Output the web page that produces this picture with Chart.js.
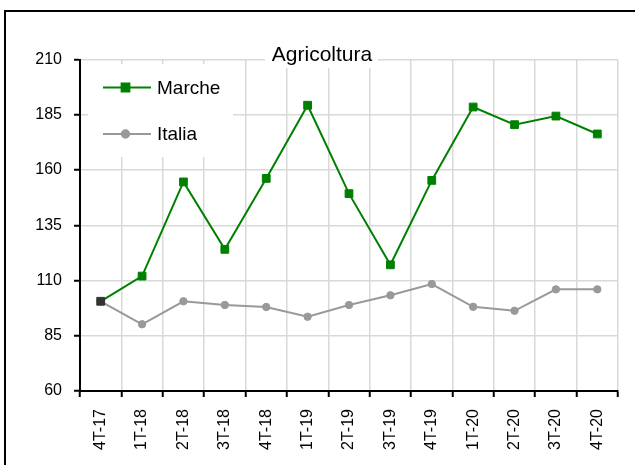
<!DOCTYPE html>
<html>
<head>
<meta charset="utf-8">
<script src="https://cdn.jsdelivr.net/npm/chart.js@4.4.0/dist/chart.umd.min.js"></script>
<style>
  html, body { margin: 0; padding: 0; background: #fff; overflow: hidden; }
  #frame { position: absolute; left: 4px; top: 10px; width: 700px; height: 500px; border: 2px solid #000; }
  #chart { position: absolute; left: 0; top: 0; }
</style>
</head>
<body>
<div id="frame"></div>
<canvas id="chart" width="635" height="465"></canvas>
<script>
// Data
const labels = ['4T-17', '1T-18', '2T-18', '3T-18', '4T-18', '1T-19', '2T-19', '3T-19', '4T-19', '1T-20', '2T-20', '3T-20', '4T-20'];
const marche = [100.6, 112.0, 154.6, 124.1, 156.2, 189.3, 149.3, 117.1, 155.3, 188.5, 180.5, 184.4, 176.3];
const italia = [100.6, 90.2, 100.6, 98.9, 98.0, 93.6, 98.9, 103.3, 108.4, 98.1, 96.3, 106.0, 106.0];
const chartTitle = 'Agricoltura';
const seriesNames = ['Marche', 'Italia'];

const FONT = '"Liberation Sans", Arial, sans-serif';
Chart.defaults.font.family = FONT;
Chart.defaults.color = '#000';

const green = '#008000';
const grey = '#999999';

// first Marche point is dark in the original
const marcheFill = marche.map((v, i) => i === 0 ? '#333333' : green);

// title with white box over the plot top
const titleBox = {
  id: 'titleBox',
  afterDraw(chart) {
    const ctx = chart.ctx;
    ctx.save();
    ctx.fillStyle = '#fff';
    ctx.fillRect(265, 38, 113, 30);
    ctx.fillStyle = '#000';
    ctx.font = '21px ' + FONT;
    ctx.textAlign = 'center';
    ctx.textBaseline = 'alphabetic';
    ctx.fillText(chartTitle, 322, 61);
    ctx.restore();
  }
};

// legend drawn inside the plot area
const innerLegend = {
  id: 'innerLegend',
  afterDraw(chart) {
    const ctx = chart.ctx;
    ctx.save();
    ctx.fillStyle = '#fff';
    ctx.fillRect(88, 64, 145, 93);
    const rows = [87.5, 134];
    chart.data.datasets.forEach((ds, i) => {
      const y = rows[i];
      ctx.strokeStyle = ds.borderColor;
      ctx.lineWidth = 2;
      ctx.beginPath();
      ctx.moveTo(103, y);
      ctx.lineTo(151, y);
      ctx.stroke();
      ctx.fillStyle = ds.borderColor;
      Chart.helpers.drawPoint(ctx, {
        pointStyle: ds.pointStyle,
        radius: ds.pointRadius,
        borderWidth: 1
      }, 125.5, y);
      ctx.fill();
      ctx.fillStyle = '#000';
      ctx.font = '19px ' + FONT;
      ctx.textAlign = 'left';
      ctx.textBaseline = 'middle';
      ctx.fillText(ds.label, 157, y + 1);
    });
    ctx.restore();
  }
};

new Chart(document.getElementById('chart').getContext('2d'), {
  type: 'line',
  data: {
    labels: labels,
    datasets: [{
      label: seriesNames[0],
      data: marche,
      borderColor: green,
      backgroundColor: green,
      borderWidth: 2,
      pointStyle: 'rect',
      pointRadius: 5.5,
      pointBorderWidth: 1,
      pointBackgroundColor: marcheFill,
      pointBorderColor: marcheFill,
      tension: 0
    }, {
      label: seriesNames[1],
      data: italia,
      borderColor: grey,
      backgroundColor: grey,
      borderWidth: 2,
      pointStyle: 'circle',
      pointRadius: 3.7,
      pointBorderWidth: 1,
      pointBackgroundColor: grey,
      pointBorderColor: grey,
      tension: 0
    }]
  },
  options: {
    responsive: false,
    animation: false,
    layout: { padding: { top: 59.5, right: 17, left: 0, bottom: 0 } },
    plugins: {
      legend: { display: false },
      title: { display: false },
      tooltip: { enabled: false }
    },
    scales: {
      x: {
        offset: true,
        grid: { offset: true, color: '#d9d9d9', lineWidth: 1.5, tickColor: '#000', tickWidth: 2, tickLength: 6 },
        border: { color: '#000', width: 2 },
        ticks: { font: { size: 16 }, color: '#000', minRotation: 90, maxRotation: 90, padding: 12, autoSkip: false },
        afterFit(scale) { scale.height = 74; }
      },
      y: {
        min: 60,
        max: 210,
        grid: { color: '#d9d9d9', lineWidth: 1.5, tickColor: '#000', tickWidth: 2, tickLength: 6 },
        border: { color: '#000', width: 2 },
        ticks: { stepSize: 25, font: { size: 16 }, color: '#000', padding: 12 },
        afterFit(scale) { scale.width = 80; }
      }
    }
  },
  plugins: [titleBox, innerLegend]
});
</script>
</body>
</html>
